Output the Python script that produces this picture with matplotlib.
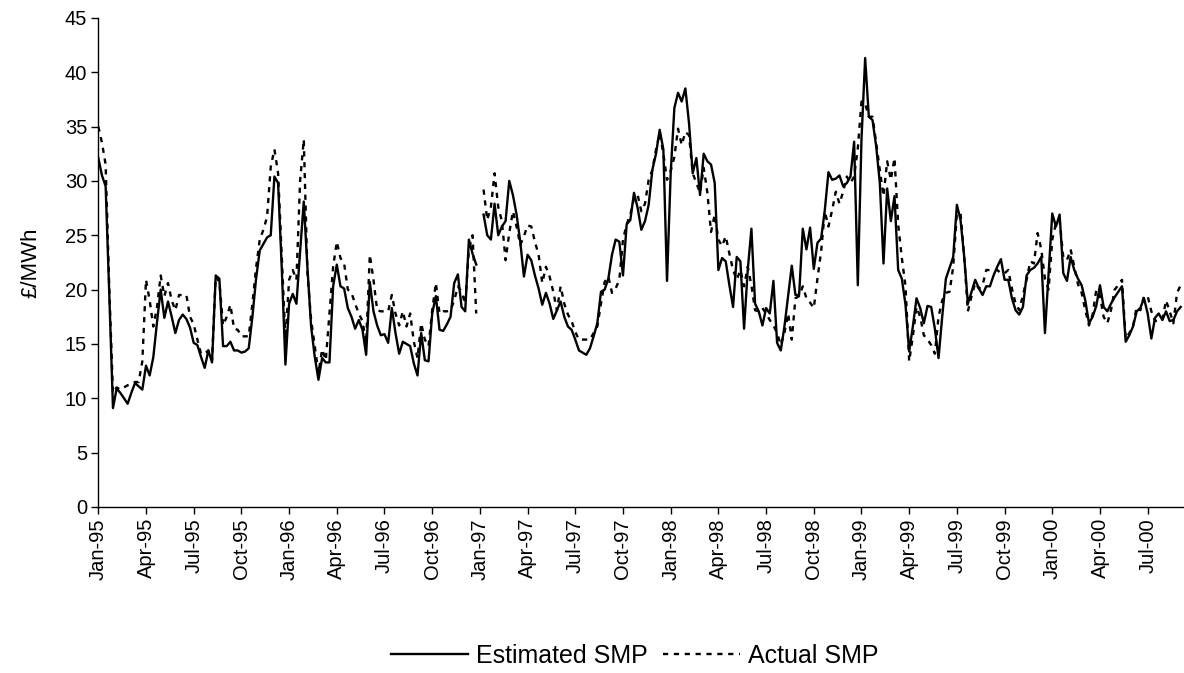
import numpy as np
import matplotlib
matplotlib.use('Agg')
import matplotlib.pyplot as plt

# Weekly SMP values (£/MWh), Jan-95 onward; None = missing week
estimated_smp = [
    32.1, 30.5, 29.5, 19.5, 9.1, 10.9, 10.5, 10.0, 9.5, 10.5,
    11.4, 11.1, 10.8, 13.0, 12.1, 13.8, 17.0, 20.0, 17.4, 18.9,
    17.5, 16.0, 17.2, 17.7, 17.3, 16.5, 15.1, 14.9, 13.8, 12.8,
    14.4, 13.3, 21.3, 21.0, 14.8, 14.8, 15.2, 14.4, 14.4, 14.2,
    14.3, 14.6, 17.5, 21.0, 23.6, 24.2, 24.8, 25.0, 30.4, 29.8,
    22.0, 13.1, 18.7, 19.6, 18.7, 23.5, 28.1, 22.0, 16.6, 13.8,
    11.7, 13.7, 13.3, 13.3, 20.3, 22.3, 20.3, 20.1, 18.3, 17.5,
    16.4, 17.2, 16.3, 14.0, 20.7, 18.0, 16.7, 15.8, 15.9, 15.1,
    18.3, 16.0, 14.1, 15.2, 15.0, 14.8, 13.2, 12.1, 16.0, 13.5,
    13.4, 17.8, 19.4, 16.3, 16.2, 16.8, 17.5, 20.6, 21.4, 18.4,
    18.0, 24.6, 23.3, 22.3, None, 26.9, 25.0, 24.6, 27.9, 25.0,
    25.8, 26.3, 30.0, 28.7, 26.9, 24.4, 21.2, 23.2, 22.7, 21.3,
    20.1, 18.6, 19.7, 18.7, 17.3, 18.1, 18.9, 17.5, 16.6, 16.3,
    15.4, 14.4, 14.2, 14.0, 14.6, 15.7, 16.9, 19.8, 20.0, 21.0,
    23.2, 24.6, 24.4, 21.3, 26.0, 26.4, 28.9, 27.5, 25.5, 26.3,
    27.8, 31.0, 32.5, 34.7, 32.9, 20.8, 30.7, 36.7, 38.1, 37.3,
    38.5, 35.3, 30.7, 32.1, 28.7, 32.5, 31.8, 31.5, 29.8, 21.8,
    22.9, 22.6, 20.4, 18.4, 23.0, 22.6, 16.4, 21.8, 25.6, 18.7,
    18.0, 16.7, 18.3, 17.8, 20.8, 15.1, 14.4, 16.6, 19.4, 22.2,
    19.5, 19.5, 25.6, 23.7, 25.7, 21.9, 24.3, 24.7, 27.3, 30.8,
    30.1, 30.2, 30.5, 29.5, 29.8, 30.4, 33.6, 20.4, 33.8, 41.3,
    35.9, 35.6, 33.2, 29.8, 22.4, 29.3, 26.3, 28.6, 21.8, 21.0,
    18.6, 14.3, 16.6, 19.2, 18.3, 16.9, 18.5, 18.4, 16.4, 13.7,
    17.5, 21.0, 22.0, 23.0, 27.8, 26.4, 23.0, 18.7, 19.8, 20.9,
    20.1, 19.5, 20.3, 20.3, 21.3, 22.1, 22.8, 20.9, 20.9, 19.2,
    18.1, 17.7, 18.4, 21.3, 21.8, 22.0, 22.4, 23.0, 16.0, 21.5,
    27.0, 25.8, 26.9, 21.5, 20.8, 23.0, 21.8, 21.0, 20.4, 19.0,
    16.9, 17.5, 18.5, 20.4, 18.4, 18.0, 18.7, 19.3, 19.8, 20.3,
    15.2, 15.8, 16.6, 18.0, 18.3, 19.2, 17.8, 15.5, 17.4, 17.8,
    17.2, 18.0, 17.1, 17.2, 18.0, 18.4,
]

actual_smp = [
    35.0, 33.5, 31.5, 20.0, 10.5, 11.0, 10.8, 11.0, 11.2, 11.3,
    11.5, 11.5, 13.4, 20.9, 19.0, 16.6, 18.4, 21.3, 19.4, 20.6,
    19.0, 18.1, 19.5, 19.5, 19.5, 17.5, 16.8, 15.4, 14.1, 14.1,
    14.4, 13.5, 21.2, 20.7, 16.7, 17.5, 18.6, 16.4, 16.3, 15.7,
    15.7, 15.7, 18.7, 22.0, 24.6, 25.5, 26.7, 31.3, 32.9, 30.7,
    23.0, 15.4, 20.9, 21.8, 20.9, 30.0, 33.8, 21.5, 17.2, 14.8,
    12.3, 14.5, 13.5, 17.8, 22.1, 24.4, 22.9, 22.4, 20.0, 19.7,
    18.7, 17.8, 17.1, 15.1, 23.2, 20.9, 18.1, 18.0, 18.0, 18.0,
    19.5, 17.8, 16.7, 18.0, 16.6, 17.8, 15.2, 13.7, 16.9, 15.4,
    14.8, 18.1, 20.6, 17.8, 18.0, 18.0, 18.1, 19.0, 20.3, 19.8,
    18.7, 23.7, 25.0, 17.8, None, 29.2, 26.4, 27.6, 30.7, 27.6,
    26.3, 22.7, 25.2, 27.2, 25.8, 24.1, 24.9, 25.9, 25.8, 24.4,
    23.2, 20.6, 22.1, 21.2, 19.8, 18.1, 20.3, 18.7, 17.7, 17.1,
    16.1, 15.4, 15.4, 15.4, 15.4, 16.0, 16.6, 18.7, 20.7, 21.2,
    19.7, 20.1, 20.9, 24.6, 26.0, 26.9, 28.4, 28.7, 27.2, 27.9,
    30.1, 31.0, 32.9, 34.4, 32.5, 30.1, 30.9, 32.2, 34.8, 33.3,
    34.5, 34.2, 30.7, 29.8, 28.9, 31.2, 28.9, 25.3, 26.9, 24.6,
    24.0, 24.9, 23.3, 21.8, 20.9, 21.8, 20.3, 22.1, 20.4, 18.1,
    18.0, 18.3, 17.8, 17.2, 16.7, 16.0, 14.9, 16.0, 17.8, 15.4,
    19.2, 19.4, 20.3, 19.2, 18.8, 18.3, 21.0, 23.5, 27.2, 25.8,
    27.3, 29.0, 27.9, 29.0, 30.4, 29.8, 30.4, 33.0, 37.3, 37.1,
    35.9, 35.9, 33.5, 31.0, 28.6, 31.8, 30.1, 32.1, 26.0, 22.9,
    20.3, 13.4, 15.7, 18.4, 17.5, 15.8, 15.4, 14.9, 14.1, 17.5,
    19.0, 19.7, 19.8, 22.1, 27.0, 27.0, 23.0, 18.0, 19.4, 20.6,
    20.1, 20.4, 21.8, 21.8, 21.8, 21.8, 21.5, 21.5, 21.8, 20.1,
    18.7, 18.1, 19.5, 20.9, 22.6, 22.4, 25.2, 23.7, 21.0, 20.0,
    24.6, 26.1, 26.4, 23.0, 22.7, 23.7, 22.1, 20.5, 19.7, 18.1,
    16.7, 17.7, 20.0, 19.4, 17.5, 16.9, 18.1, 20.0, 20.4, 20.9,
    15.5, 16.0, 16.6, 18.4, 18.1, 19.4, 19.4, 18.0, 17.1, 17.2,
    17.2, 19.0, 18.0, 16.9, 19.7, 20.4,
]

tick_labels = ["Jan-95", "Apr-95", "Jul-95", "Oct-95",
               "Jan-96", "Apr-96", "Jul-96", "Oct-96",
               "Jan-97", "Apr-97", "Jul-97", "Oct-97",
               "Jan-98", "Apr-98", "Jul-98", "Oct-98",
               "Jan-99", "Apr-99", "Jul-99", "Oct-99",
               "Jan-00", "Apr-00", "Jul-00"]
weeks_per_tick = 13

plt.rcParams['font.family'] = ['Liberation Sans', 'DejaVu Sans']

est = np.array([np.nan if v is None else v for v in estimated_smp], dtype=float)
act = np.array([np.nan if v is None else v for v in actual_smp], dtype=float)
x = np.arange(len(est))

W, H = 1184, 673
fig = plt.figure(figsize=(W / 100, H / 100), dpi=100)
left_px, right_px, top_px, bottom_px = 98.3, 1184, 17.8, 507
ax = fig.add_axes([left_px / W, 1 - bottom_px / H,
                   (right_px - left_px) / W, (bottom_px - top_px) / H])

ax.plot(x, est, color='black', lw=1.7, label='Estimated SMP')
ax.plot(x, act, color='black', lw=1.7, linestyle=(0, (2.2, 2.4)),
        label='Actual SMP')

ax.set_xlim(0, 295.9)
ax.set_ylim(0, 45)
ax.set_yticks(range(0, 46, 5))
ax.set_xticks(np.arange(len(tick_labels)) * weeks_per_tick)
ax.set_xticklabels(tick_labels, rotation=90)

for s in ['top', 'right']:
    ax.spines[s].set_visible(False)
for s in ['left', 'bottom']:
    ax.spines[s].set_linewidth(1.0)
    ax.spines[s].set_color('black')

ax.tick_params(direction='out', length=5, width=1, labelsize=14.5, pad=3)
ax.set_ylabel('£/MWh', fontsize=16)
ax.yaxis.set_label_coords(-0.052, 0.5)

fig.legend(loc='center', bbox_to_anchor=(0.536, 1 - 656 / H), ncol=2,
           frameon=False, fontsize=18, handlelength=3.1,
           columnspacing=0.6, handletextpad=0.3)

fig.savefig('out.png', dpi=100)
